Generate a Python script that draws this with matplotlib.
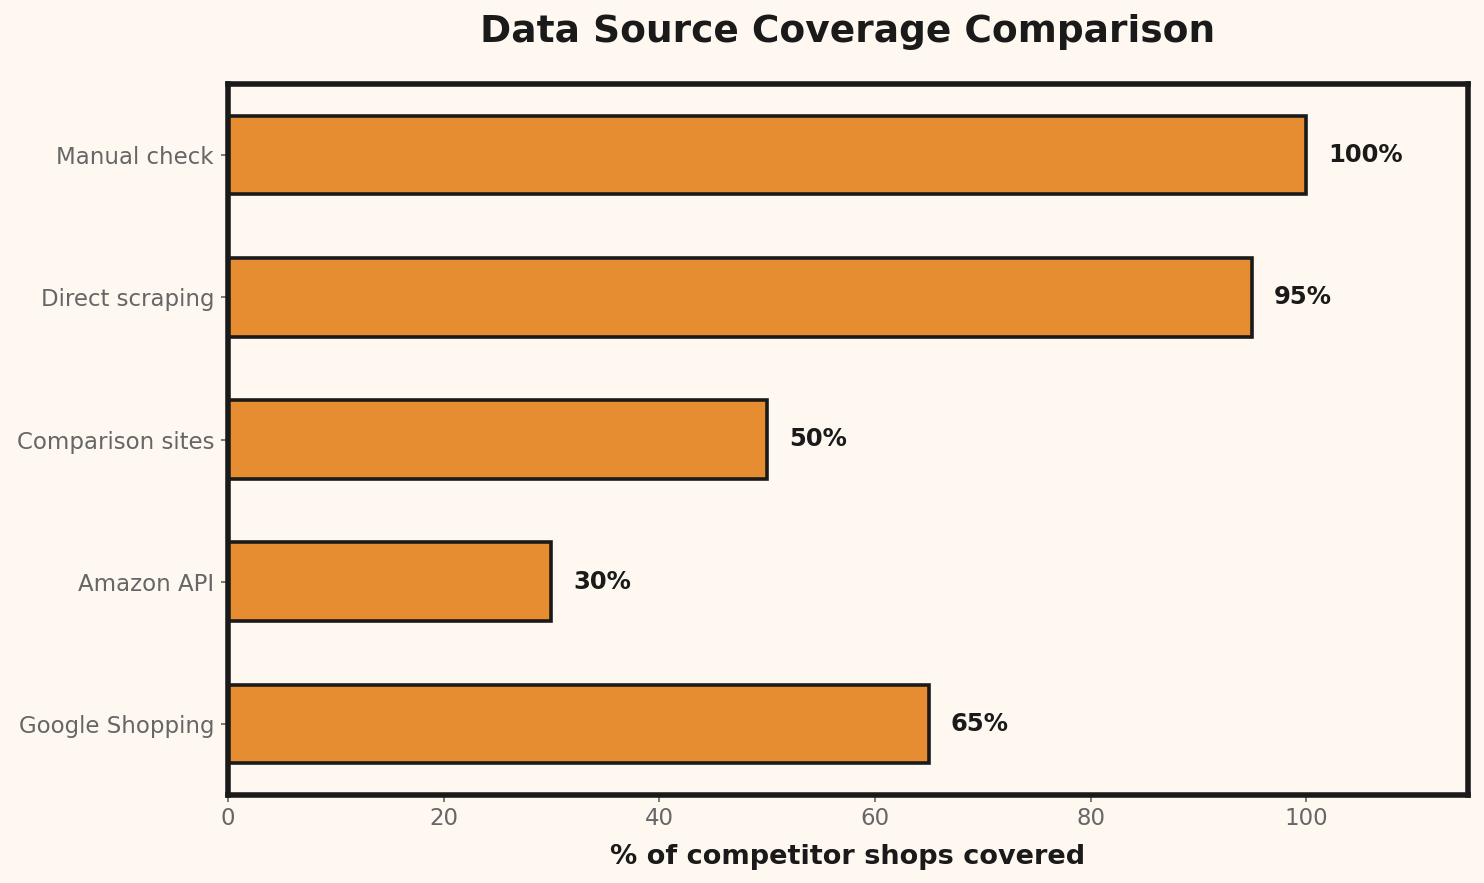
import matplotlib
matplotlib.use("Agg")
import matplotlib.pyplot as plt

categories = ["Google Shopping", "Amazon API", "Comparison sites", "Direct scraping", "Manual check"]
coverage = [65, 30, 50, 95, 100]
value_labels = ["65%", "30%", "50%", "95%", "100%"]

bg = "#FFF8F1"
bar_color = "#E68C31"
dark = "#1A1A1A"
grey = "#666666"

fig = plt.figure(figsize=(14.84, 8.83), dpi=100, facecolor=bg)
ax = fig.add_axes([228/1484, 1-795/883, (1468-228)/1484, (795-84)/883])
ax.set_facecolor(bg)

ax.barh(categories, coverage, height=0.55, color=bar_color, edgecolor=dark, linewidth=2.6)
for i, (v, lab) in enumerate(zip(coverage, value_labels)):
    ax.text(v + 2, i, lab, va="center", ha="left", fontsize=17.5, fontweight="bold", color=dark)

ax.set_xlim(0, 115)
ax.set_title("Data Source Coverage Comparison", fontsize=27, fontweight="bold", color=dark, pad=30)
ax.set_xlabel("% of competitor shops covered", fontsize=19.5, fontweight="bold", color=dark, labelpad=10)
ax.tick_params(axis="both", colors=grey, labelsize=16.5, length=5, width=1.2)
ax.tick_params(axis="y", pad=5)
for s in ax.spines.values():
    s.set_linewidth(4.0)
    s.set_color(dark)

fig.savefig("out.png", dpi=100, facecolor=bg)
